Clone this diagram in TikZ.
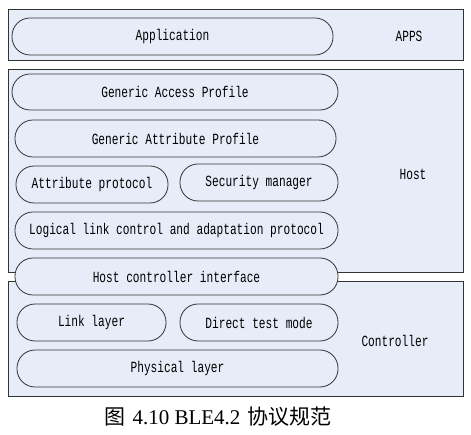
\documentclass[tikz,border=0pt]{standalone}
\usepackage{fontspec}
\setmainfont{Liberation Serif}
\setmonofont[FakeStretch=0.72]{Liberation Mono}
\newfontfamily\cjk{Noto Sans CJK SC}
\definecolor{boxfill}{HTML}{E6EDF8}
\definecolor{boxline}{HTML}{333333}
\begin{document}
\begin{tikzpicture}[x=1pt,y=1pt,
  layerbox/.style={draw=boxline,line width=0.9pt,fill=boxfill,rectangle,inner sep=0pt},
  pill/.style={draw=boxline,line width=0.8pt,fill=boxfill,rectangle,rounded corners=18pt,inner sep=0pt,minimum height=37pt,font=\ttfamily\fontsize{15.5}{17}\selectfont},
  side/.style={font=\ttfamily\fontsize{15.5}{17}\selectfont,inner sep=0pt}]
\useasboundingbox (0,0) rectangle (471,-435);
\fill[white] (0,0) rectangle (471,-435);
% layer boxes
\node[layerbox,minimum width=455pt,minimum height=51pt] (appsbox) at (235.5,-34.5) {};
\node[layerbox,minimum width=455pt,minimum height=203pt] (hostbox) at (235.5,-170.5) {};
\node[layerbox,minimum width=455pt,minimum height=115pt] (ctrlbox) at (235.5,-338.5) {};
% side labels
\node[side] (apps) at (409,-36) {APPS};
\node[side] (host) at (413,-174) {Host};
\node[side] (ctrl) at (395,-341) {Controller};
% pills
\node[pill,minimum width=321pt] (app) at (172.5,-36.5) {Application};
\node[pill,minimum width=326pt,minimum height=36pt] (gap) at (175,-92) {Generic Access Profile};
\node[pill,minimum width=321pt] (gatt) at (175.5,-138.5) {Generic Attribute Profile};
\node[pill,minimum width=152pt] (att) at (92,-184.5) {Attribute protocol};
\node[pill,minimum width=158pt] (sm) at (259,-182.5) {Security manager};
\node[pill,minimum width=323pt] (l2cap) at (176.5,-230.5) {Logical link control and adaptation protocol};
\node[pill,minimum width=323pt] (hci) at (176.5,-276.5) {Host controller interface};
\node[pill,minimum width=149pt] (ll) at (91.5,-322.5) {Link layer};
\node[pill,minimum width=158pt] (dtm) at (259,-322.5) {Direct test mode};
\node[pill,minimum width=321pt] (phy) at (177.5,-368.5) {Physical layer};
% caption
\node[inner sep=0pt,font=\fontsize{21}{24}\selectfont] (cap) at (218,-417) {{\cjk 图}\hspace{2pt} 4.10 BLE4.2\hspace{2pt} {\cjk 协议规范}};
\end{tikzpicture}
\end{document}
